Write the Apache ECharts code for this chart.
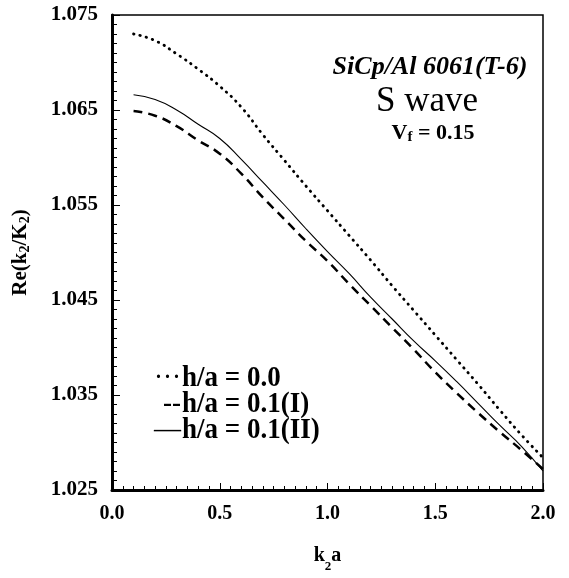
<!DOCTYPE html>
<html>
<head>
<meta charset="utf-8">
<script src="https://cdn.jsdelivr.net/npm/echarts@6/dist/echarts.min.js"></script>
<style>
html,body{margin:0;padding:0;background:#fff;}
#chart{width:569px;height:578px;}
</style>
</head>
<body>
<div id="chart"></div>
<script>
// ---- data ----
var kaValues = [0.1,0.2,0.3,0.4,0.5,0.6,0.7,0.8,0.9,1.0,1.1,1.2,1.3,1.4,1.5,1.6,1.7,1.8,1.9,2.0];
var seriesNames = ['h/a = 0.0', 'h/a = 0.1(I)', 'h/a = 0.1(II)'];
var legendMarks = ['\u00b7\u00b7\u00b7', '--', '\u2014'];
var reH00 = [1.0730,1.0723,1.0709,1.0693,1.0675,1.0653,1.0624,1.0597,1.0570,1.0544,1.0518,1.0492,1.0465,1.0439,1.0413,1.0387,1.0361,1.0334,1.0308,1.0284];
var reH01I = [1.0649,1.0644,1.0633,1.0618,1.0604,1.0583,1.0558,1.0535,1.0512,1.0491,1.0467,1.0444,1.0421,1.0398,1.0374,1.0352,1.0331,1.0311,1.0292,1.0272];
var reH01II = [1.0666,1.0661,1.0650,1.0635,1.0620,1.0598,1.0574,1.0550,1.0525,1.0501,1.0478,1.0453,1.0430,1.0407,1.0386,1.0364,1.0341,1.0318,1.0296,1.0270];
var xTicks = [0.0, 0.5, 1.0, 1.5, 2.0];
var yTicks = [1.025, 1.035, 1.045, 1.055, 1.065, 1.075];

function pairs(xs, ys){ return xs.map(function(x,i){ return [x, ys[i]]; }); }

var serif = 'Liberation Serif, Times New Roman, serif';

// legend drawn as text (prefix mark + label), like the original figure
var legendGraphics = [];
var legendRows = [378, 404, 430];
seriesNames.forEach(function(name, i){
  legendGraphics.push({type:'text', x:181, y:legendRows[i], scaleX:0.9,
    style:{text:legendMarks[i], fill:'#000', font:'30px Liberation Serif', textAlign:'right', textVerticalAlign:'middle'}});
  legendGraphics.push({type:'text', x:182, y:legendRows[i], scaleX:0.9,
    style:{text:name, fill:'#000', font:'bold 30px Liberation Serif', textAlign:'left', textVerticalAlign:'middle'}});
});

var chart = echarts.init(document.getElementById('chart'), null, {renderer:'canvas'});
chart.setOption({
  animation: false,
  backgroundColor: '#fff',
  grid: {left:112, right:26, top:15, bottom:83, show:true, borderColor:'#000', borderWidth:1.5, backgroundColor:'transparent'},
  xAxis: {
    type:'value', min:xTicks[0], max:xTicks[xTicks.length-1], interval:0.5,
    axisLine:{show:true, onZero:false, lineStyle:{color:'#000', width:3}},
    axisTick:{show:true, inside:true, length:7, lineStyle:{color:'#000', width:1}},
    minorTick:{show:true, splitNumber:10, length:4, lineStyle:{color:'#000', width:1}},
    splitLine:{show:false},
    axisLabel:{color:'#000', fontFamily:serif, fontWeight:'bold', fontSize:20, margin:14,
      formatter:function(v){ return v.toFixed(1); }},
    name:'{a|k}{s|2}{a|a}', nameLocation:'middle', nameGap:56,
    nameTextStyle:{color:'#000', fontFamily:serif, fontWeight:'bold', fontSize:20,
      rich:{a:{fontFamily:serif, fontWeight:'bold', fontSize:20, color:'#000', verticalAlign:'top'},
            s:{fontFamily:serif, fontWeight:'bold', fontSize:13, color:'#000', padding:[14,0,0,0], verticalAlign:'top'}}}
  },
  yAxis: {
    type:'value', min:yTicks[0], max:yTicks[yTicks.length-1], interval:0.01,
    axisLine:{show:true, onZero:false, lineStyle:{color:'#000', width:3}},
    axisTick:{show:true, inside:true, length:8, lineStyle:{color:'#000', width:1}},
    minorTick:{show:true, splitNumber:10, length:5, lineStyle:{color:'#000', width:1}},
    splitLine:{show:false},
    axisLabel:{color:'#000', fontFamily:serif, fontWeight:'bold', fontSize:21, margin:14,
      formatter:function(v){ return v.toFixed(3); }},
    name:'{a|Re(k}{s|2}{a|/K}{s|2}{a|)}', nameLocation:'middle', nameGap:80, nameRotate:90,
    nameTextStyle:{color:'#000', fontFamily:serif, fontWeight:'bold', fontSize:21,
      rich:{a:{fontFamily:serif, fontWeight:'bold', fontSize:21, color:'#000'},
            s:{fontFamily:serif, fontWeight:'bold', fontSize:14, color:'#000', padding:[8,0,0,0]}}}
  },
  graphic: legendGraphics.concat([
    {type:'text', x:430, y:67, style:{text:'SiCp/Al 6061(T-6)', fill:'#000', font:'italic bold 26px Liberation Serif', textAlign:'center', textVerticalAlign:'middle'}},
    {type:'text', x:427, y:102, style:{text:'S wave', fill:'#000', font:'35px Liberation Serif', textAlign:'center', textVerticalAlign:'middle'}},
    {type:'text', x:433, y:133, style:{text:'{v|V}{f|f}{v| = 0.15}', textAlign:'center', textVerticalAlign:'middle',
      rich:{v:{fill:'#000', fontFamily:serif, fontWeight:'bold', fontSize:22},
            f:{fill:'#000', fontFamily:serif, fontWeight:'bold', fontSize:15, padding:[8,0,0,0]}}}}
  ]),
  series: [
    {name:seriesNames[0], type:'line', data:pairs(kaValues, reH00), showSymbol:false, symbol:'none', smooth:true,
     lineStyle:{color:'#000', width:2.8, type:[0.5,6], cap:'round'}, itemStyle:{color:'#000'}},
    {name:seriesNames[1], type:'line', data:pairs(kaValues, reH01I), showSymbol:false, symbol:'none', smooth:true,
     lineStyle:{color:'#000', width:2.5, type:[9,6]}, itemStyle:{color:'#000'}},
    {name:seriesNames[2], type:'line', data:pairs(kaValues, reH01II), showSymbol:false, symbol:'none', smooth:true,
     lineStyle:{color:'#000', width:1.1}, itemStyle:{color:'#000'}}
  ]
});
</script>
</body>
</html>
